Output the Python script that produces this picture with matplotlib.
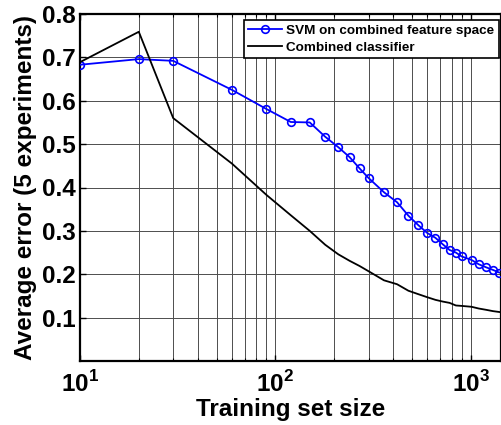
import numpy as np
import matplotlib
matplotlib.use("Agg")
import matplotlib.pyplot as plt
from matplotlib.ticker import FixedLocator, FuncFormatter, LogLocator, NullFormatter

plt.rcParams['font.family'] = ['Liberation Sans', 'DejaVu Sans']
plt.rcParams['font.weight'] = 'bold'
plt.rcParams['mathtext.fontset'] = 'custom'
plt.rcParams['mathtext.rm'] = 'Liberation Sans:bold'
plt.rcParams['mathtext.bf'] = 'Liberation Sans:bold'

# training set sizes
train_sizes = [10, 20, 30, 60, 90, 120, 150, 180, 210, 240, 270, 300, 360,
               420, 480, 540, 600, 660, 720, 780, 840, 900, 1010, 1100,
               1200, 1300, 1400]

# average error, SVM on combined feature space
svm_error = [0.683, 0.696, 0.692, 0.625, 0.581, 0.551, 0.550, 0.517, 0.493,
             0.470, 0.444, 0.422, 0.389, 0.366, 0.335, 0.313, 0.295, 0.284,
             0.269, 0.256, 0.250, 0.241, 0.233, 0.223, 0.216, 0.210, 0.204]

# average error, combined classifier
combined_error = [0.689, 0.759, 0.560, 0.455, 0.383, 0.336, 0.300, 0.268,
                  0.246, 0.231, 0.219, 0.207, 0.186, 0.177, 0.162, 0.154,
                  0.147, 0.141, 0.137, 0.134, 0.128, 0.127, 0.125, 0.121,
                  0.118, 0.115, 0.113]

y_ticks = [0.1, 0.2, 0.3, 0.4, 0.5, 0.6, 0.7, 0.8]

fig = plt.figure(figsize=(5.01, 4.25), dpi=100)
ax = fig.add_axes([80 / 501, 64 / 425, 421 / 501, 347 / 425])

ax.plot(train_sizes, svm_error, color='#0000ff', lw=1.3, marker='o',
        markersize=5.5, markerfacecolor='none', markeredgewidth=1.2,
        label='SVM on combined feature space', zorder=3)
ax.plot(train_sizes, combined_error, color='black', lw=1.3,
        label='Combined classifier', zorder=3)

ax.set_xscale('log')
ax.set_xlim(10, 1430)
ax.set_ylim(0, 0.8)

ax.xaxis.set_major_locator(FixedLocator([10, 100, 1000]))
ax.xaxis.set_major_formatter(FuncFormatter(
    lambda v, p: r'$10^{%d}$' % int(round(np.log10(v)))))
ax.xaxis.set_minor_locator(LogLocator(base=10, subs=np.arange(2, 10)))
ax.xaxis.set_minor_formatter(NullFormatter())
ax.set_yticks(y_ticks)
ax.set_yticklabels(['%.1f' % t for t in y_ticks])

ax.tick_params(axis='both', which='major', direction='in', length=4,
               width=1, labelsize=17.5, top=True, pad=3)
ax.tick_params(axis='x', which='major', pad=7)
ax.tick_params(axis='x', which='minor', direction='in', length=2.5,
               width=0.8, top=True)

ax.grid(True, which='both', axis='x', color='0.3', lw=0.7)
ax.grid(True, which='major', axis='y', color='0.3', lw=0.7)
ax.set_axisbelow(True)

for side in ['left', 'bottom', 'top', 'right']:
    ax.spines[side].set_linewidth(1.6)

ax.set_xlabel('Training set size', fontsize=17.5, fontweight='bold',
              labelpad=1)
ax.set_ylabel('Average error (5 experiments)', fontsize=17.5,
              fontweight='bold', labelpad=4)

leg = ax.legend(loc='upper right', bbox_to_anchor=(0.995, 0.983),
                borderaxespad=0, fontsize=9.7, fancybox=False,
                framealpha=1, edgecolor='black', handlelength=2.5,
                handletextpad=0.3, borderpad=0.35, labelspacing=0.3,
                numpoints=1)
leg.get_frame().set_linewidth(1.2)

fig.savefig('out.png', dpi=100)
